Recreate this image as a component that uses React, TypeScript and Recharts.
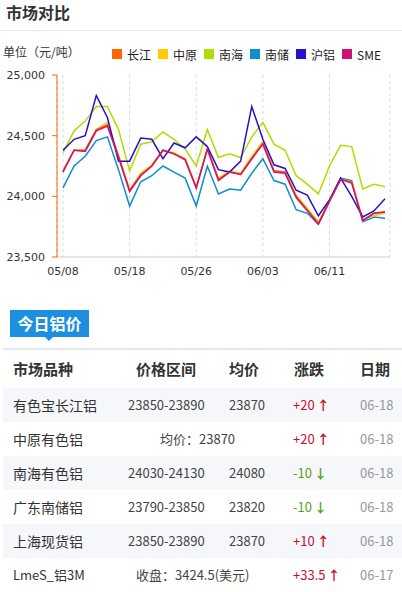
import React from 'react';
import { LineChart, Line, XAxis, YAxis, CartesianGrid } from 'recharts';

// dates on the x axis (only every 6th one is labelled)
const dates = [
  '05/08', '05/09', '05/10', '05/11', '05/14', '05/16', '05/18', '05/19', '05/21', '05/22',
  '05/23', '05/24', '05/26', '05/28', '05/29', '05/30', '05/31', '06/01', '06/03', '06/04',
  '06/05', '06/06', '06/07', '06/08', '06/11', '06/12', '06/13', '06/14', '06/15', '06/18',
];

const changJiang = [
  24210, 24380, 24380, 24550, 24590, 24330, 24050, 24180, 24250, 24380,
  24350, 24310, 24070, 24390, 24140, 24200, 24180, 24310, 24440, 24210,
  24200, 24000, 23890, 23780, 23960, 24140, 24120, 23800, 23860, 23870,
];
const zhongYuan = [
  24210, 24380, 24380, 24550, 24610, 24340, 24050, 24190, 24260, 24380,
  24360, 24310, 24080, 24390, 24150, 24210, 24190, 24330, 24450, 24210,
  24200, 24010, 23900, 23790, 23960, 24140, 24120, 23810, 23840, 23860,
];
const nanHai = [
  24360, 24540, 24620, 24740, 24740, 24550, 24210, 24430, 24450, 24530,
  24470, 24390, 24250, 24550, 24320, 24350, 24320, 24490, 24610, 24430,
  24380, 24170, 24100, 24020, 24250, 24420, 24410, 24060, 24100, 24080,
];
const nanChu = [
  24070, 24250, 24330, 24460, 24490, 24220, 23920, 24120, 24170, 24250,
  24200, 24150, 23920, 24250, 24020, 24060, 24050, 24190, 24310, 24130,
  24100, 23890, 23860, 23770, 23960, 24150, 24130, 23790, 23830, 23820,
];
const huLv = [
  24380, 24470, 24500, 24830, 24650, 24290, 24290, 24480, 24470, 24310,
  24440, 24400, 24490, 24410, 24220, 24200, 24290, 24740, 24470, 24260,
  24230, 24050, 24010, 23840, 23970, 24150, 24000, 23830, 23880, 23980,
];
const sme = [
  24200, 24380, 24370, 24540, 24580, 24320, 24040, 24170, 24250, 24380,
  24350, 24300, 24070, 24390, 24130, 24200, 24180, 24310, 24430, 24200,
  24190, 23990, 23880, 23770, 23960, 24140, 24110, 23800, 23860, 23870,
];

const yTicks = [23500, 24000, 24500, 25000];

// table: 今日铝价
const rowNames = ['有色宝长江铝', '中原有色铝', '南海有色铝', '广东南储铝', '上海现货铝', 'LmeS_铝3M'];
const rowRanges = ['23850-23890', '', '24030-24130', '23790-23850', '23850-23890', ''];
const rowAvgs = ['23870', '', '24080', '23820', '23870', ''];
const rowNotes = ['', '均价：23870', '', '', '', '收盘：3424.5(美元)'];
const rowChanges = ['+20', '+20', '-10', '-10', '+10', '+33.5'];
const rowDates = ['06-18', '06-18', '06-18', '06-18', '06-18', '06-17'];

const seriesList = [
  { key: '长江', color: '#ff6600' },
  { key: '中原', color: '#ffcc00' },
  { key: '南海', color: '#b0dd00' },
  { key: '南储', color: '#0d8ecf' },
  { key: '沪铝', color: '#2a0fcc' },
  { key: 'SME', color: '#cc1177' },
];
const drawOrder = ['南海', '南储', '中原', '长江', '沪铝', 'SME'];

const data = dates.map((d, i) => ({
  date: d,
  长江: changJiang[i],
  中原: zhongYuan[i],
  南海: nanHai[i],
  南储: nanChu[i],
  沪铝: huLv[i],
  SME: sme[i],
}));

const CJK = '"Noto Sans CJK SC", "Noto Sans", sans-serif';
const axisFont = { fontSize: 11, fontFamily: '"DejaVu Sans", sans-serif', fill: '#333' };

const App = () => {
  return (
    <div style={{ position: 'relative', width: 402, height: 592, overflow: 'hidden', background: '#fff', fontFamily: CJK }}>
      <style>{'body{margin:0}'}</style>

      <div style={{ position: 'absolute', left: 6, top: 0, fontSize: 16, fontWeight: 'bold', color: '#333', lineHeight: '24px' }}>
        市场对比
      </div>
      <div style={{ position: 'absolute', left: 0, top: 30, width: 402, height: 1, background: '#e8e8e8' }} />

      <div style={{ position: 'absolute', left: 3, top: 44, fontSize: 12, color: '#333', lineHeight: '16px' }}>
        单位（元/吨）
      </div>
      <div style={{ position: 'absolute', left: 112, top: 46, display: 'flex', alignItems: 'center', height: 16 }}>
        {seriesList.map((s) => (
          <div key={s.key} style={{ display: 'flex', alignItems: 'center', marginRight: 7 }}>
            <span style={{ width: 10, height: 10, background: s.color, display: 'inline-block', marginRight: 5 }} />
            <span style={{ fontSize: 12, color: '#222' }}>{s.key}</span>
          </div>
        ))}
      </div>

      <div style={{ position: 'absolute', left: 0, top: 0 }}>
        <LineChart width={402} height={290} data={data} margin={{ top: 75, right: 12, bottom: 3, left: 0 }}>
          <CartesianGrid horizontal={false} stroke="#d8d8d8" strokeDasharray="3 3" />
          <XAxis
            dataKey="date"
            interval={5}
            tickLine={false}
            tickSize={0}
            tickMargin={10}
            axisLine={{ stroke: '#cccccc' }}
            padding={{ left: 6, right: 5 }}
            tick={axisFont}
          />
          <YAxis
            width={57}
            domain={[23500, 25000]}
            ticks={yTicks}
            interval={0}
            tickSize={5}
            tickMargin={7}
            axisLine={{ stroke: '#ff6600' }}
            tickLine={{ stroke: '#ff6600' }}
            tick={axisFont}
            tickFormatter={(v: number) => v.toLocaleString('en-US')}
          />
          {drawOrder.map((k) => {
            const s = seriesList.find((x) => x.key === k)!;
            return (
              <Line
                key={k}
                type="linear"
                dataKey={k}
                stroke={s.color}
                strokeWidth={1.5}
                dot={false}
                isAnimationActive={false}
              />
            );
          })}
        </LineChart>
      </div>

      {/* 今日铝价 badge */}
      <div style={{ position: 'absolute', left: 10, top: 310, width: 79, height: 27, background: '#1c8fe0', color: '#fff', fontSize: 16, fontWeight: 'bold', lineHeight: '27px', textAlign: 'center' }}>
        今日铝价
      </div>
      <div style={{ position: 'absolute', left: 45, top: 337, width: 0, height: 0, borderLeft: '4px solid transparent', borderRight: '4px solid transparent', borderTop: '4px solid #1c8fe0' }} />
      <div style={{ position: 'absolute', left: 3, top: 348, width: 399, height: 2, background: '#e6e6ec' }} />

      {/* header */}
      {[
        ['市场品种', 13],
        ['价格区间', 136],
        ['均价', 229],
        ['涨跌', 294],
        ['日期', 360],
      ].map(([t, x]) => (
        <div key={t as string} style={{ position: 'absolute', left: x as number, top: 358, fontSize: 15, fontWeight: 'bold', color: '#333', lineHeight: '22px' }}>
          {t}
        </div>
      ))}

      {rowNames.map((name, i) => {
        const top = 388 + i * 34;
        const up = rowChanges[i].startsWith('+');
        const chColor = up ? '#c8102e' : '#5a9e1a';
        return (
          <div key={name} style={{ position: 'absolute', left: 3, top, width: 399, height: 34, background: i % 2 === 0 ? '#f6f7fa' : '#fff' }}>
            <div style={{ position: 'absolute', left: 10, top: 6, fontSize: i === 5 ? 13 : 14, color: '#333', lineHeight: '22px' }}>{name}</div>
            {rowNotes[i] ? (
              <div style={{ position: 'absolute', left: i === 5 ? 133 : 157, top: 6, fontSize: 13, color: '#444', lineHeight: '22px' }}>{rowNotes[i]}</div>
            ) : (
              <>
                <div style={{ position: 'absolute', left: 125, top: 6, fontSize: 13, color: '#444', lineHeight: '22px' }}>{rowRanges[i]}</div>
                <div style={{ position: 'absolute', left: 226, top: 6, fontSize: 13, color: '#444', lineHeight: '22px' }}>{rowAvgs[i]}</div>
              </>
            )}
            <div style={{ position: 'absolute', left: 290, top: 6, fontSize: 13, color: chColor, lineHeight: '22px' }}>
              {rowChanges[i]}
              <span style={{ marginLeft: 2, fontWeight: 'bold' }}>{up ? '↑' : '↓'}</span>
            </div>
            <div style={{ position: 'absolute', left: 357, top: 6, fontSize: 13, color: '#999', lineHeight: '22px' }}>{rowDates[i]}</div>
          </div>
        );
      })}
    </div>
  );
};

export default App;
